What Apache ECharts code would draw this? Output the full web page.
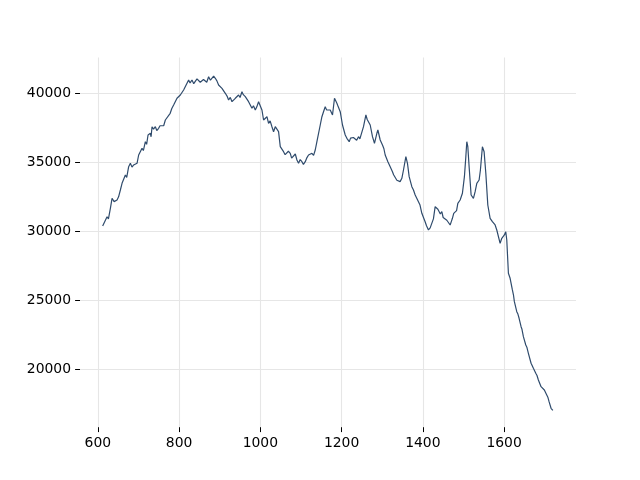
<!DOCTYPE html>
<html>
<head>
<meta charset="utf-8">
<script src="https://cdn.jsdelivr.net/npm/echarts@6/dist/echarts.min.js"></script>
<style>html,body{margin:0;padding:0;background:#fff}#c{width:640px;height:480px}</style>
</head>
<body>
<div id="c"></div>
<script>
const xValues = [
611.8,616,622.6,626,630.8,634.9,640,647.2,651,655.4,659.5,663,667.7,671,675.8,680,684,688.1,692,696.4,700.4,704,708.7,712,716.9,720,723.5,729.2,731,733.3,737,741.5,745,749.6,753,757.9,762,766.1,771,
778,782,786.5,790,794.8,799,803,807,811.1,815,819.4,823.4,827,831.7,836,839.9,844,848,852,856.3,860,864.5,868,872.6,877,880.9,885,889.1,893,897.2,901,905.5,909,913.7,918,921.8,926,930.2,934,938.3,942,946.4,950,954.7,958,962.9,967,971,975,979.3,983,987.5,991,995.6,999.8,1003.9,1007.9,
1012,1016.2,1020.2,1024,1028.5,1032.5,1036.7,1040.8,1044.8,1049,1053,1057.1,1061,1065.4,1069,1073.6,1077,1081.7,1086,1090,1094,1098,1102.3,1106,1110.5,1114,1118.6,1122,1126.9,1131,1135.1,1139.2,1147.4,1151.5,1155.5,1159.7,1163,1166.3,1172,1177.6,1182.5,1188.4,1192,1196.6,1202.2,1208.9,
1213,1218.7,1222,1225.3,1229,1233.5,1237,1241.6,1245,1249.9,1253.9,1259.8,1263,1266.2,1270.4,1276,1280.9,1286.8,1289.3,1295,1300.6,1304,1307.3,1313.9,1317,1319.6,1325.2,1328,1331.9,1336,1340,1344,1348.3,1352.3,1358.2,1362.1,1366.3,1372.9,1376.9,
1381.1,1385,1389.2,1393,1397.5,1401,1405.6,1409,1413.8,1418,1422.1,1426,1430.3,1434.4,1437,1440.1,1443,1446.7,1450,1454.9,1459,1463,1467.2,1470,1472.8,1476,1479.5,1483,1486.1,1489,1491.8,1497.4,1502.3,1505.8,1508.2,1510.7,1513.9,1518.8,1524.5,1528.7,1532.8,1538.5,1541.7,1546.6,1550.8,1555,1559.9,1565.6,1571.2,1577.9,1582,
1584.5,1590.2,1594.3,1600.7,1604.1,1606.6,1610.6,1614.8,1620.4,1623,1625.3,1631.2,1634,1636.9,1641.8,1644,1647.5,1653.4,1656,1659.8,1666.4,1669,1672.1,1678,1681,1684.4,1691,1695,1699.1,1705,1708,1710.7,1715.6,1720];
const yValues = [
30385,30300,31058,30900,31667,32392,32150,32268,32500,32993,33479,33350,34080,33900,34681,34928,34650,34805,34700,34928,35529,35400,36015,35850,36493,36300,36978,37102,36850,37580,37400,37580,37300,37464,37650,37775,37650,38065,38150,
38550,38900,39152,39050,39638,39500,39877,39800,40239,40100,40725,40964,40750,40964,40700,40841,41050,40964,40800,40725,41000,40964,40800,41203,40950,41087,41250,41087,40900,40601,40700,40362,40450,40000,39800,39515,39700,39391,39250,39638,39500,39877,39700,40116,39900,39754,39850,39391,39500,38913,39100,38790,39000,39391,39515,38790,38065,
38188,38304,37826,38000,37580,37218,37580,37580,37218,36131,36000,35768,35550,35529,35800,35652,35300,35406,35600,35167,34928,35200,35044,34850,35044,35300,35529,35400,35652,35500,35891,36493,37703,38304,38667,39029,38800,38913,38790,38428,39638,39275,39000,38667,37703,36978,
36739,36493,36750,36616,36800,36739,36600,36855,36700,36739,37580,38428,38100,38188,37703,36855,36377,37102,37341,36616,36254,36000,35529,35044,35100,34681,34319,34100,34203,33700,33841,33600,33841,34442,35406,34928,33957,33232,32993,
32631,32400,32268,31900,31305,31200,30696,30400,30095,30250,30218,30900,31783,31906,31600,31544,31250,31421,31000,31058,30800,30696,30457,30700,30942,31300,31182,31500,32030,31900,32268,32754,33957,35406,36493,36131,34681,32631,32392,32870,33479,33718,34442,36131,35768,34203,31906,30942,30696,30457,30095,
30218,29131,29493,29732,29971,29370,26957,26595,25747,25400,24899,24175,24000,23697,23088,22900,22363,21762,21600,21160,20436,20300,20073,19711,19550,19226,18740,18650,18501,18139,17950,17654,17175,17020];
const xTicks = [600, 800, 1000, 1200, 1400, 1600];
const yTicks = [20000, 25000, 30000, 35000, 40000];

const chart = echarts.init(document.getElementById('c'), null, {renderer: 'canvas'});
const font = {fontFamily: 'DejaVu Sans', fontSize: 13.9, color: '#000', formatter: v => String(v)};
chart.setOption({
  animation: false,
  backgroundColor: '#fff',
  grid: {left: 80, right: 64, top: 57.6, bottom: 52.8, containLabel: false},
  xAxis: {
    type: 'value', min: 556, max: 1777,
    axisLine: {show: false},
    axisTick: {show: true, customValues: xTicks, length: 4.9, lineStyle: {color: '#000', width: 1}},
    axisLabel: Object.assign({customValues: xTicks, margin: 9}, font),
    splitLine: {show: true, lineStyle: {color: '#e6e6e6', width: 1.1}}
  },
  yAxis: {
    type: 'value', min: 15804, max: 42587,
    axisLine: {show: false},
    axisTick: {show: true, customValues: yTicks, length: 4.9, lineStyle: {color: '#000', width: 1}},
    axisLabel: Object.assign({customValues: yTicks, margin: 9}, font),
    splitLine: {show: true, lineStyle: {color: '#e6e6e6', width: 1.1}}
  },
  series: [{
    type: 'line',
    data: xValues.map((x, i) => [x, yValues[i]]),
    showSymbol: false,
    lineStyle: {color: '#2f4b6c', width: 1.2},
    z: 3
  }]
});
</script>
</body>
</html>
